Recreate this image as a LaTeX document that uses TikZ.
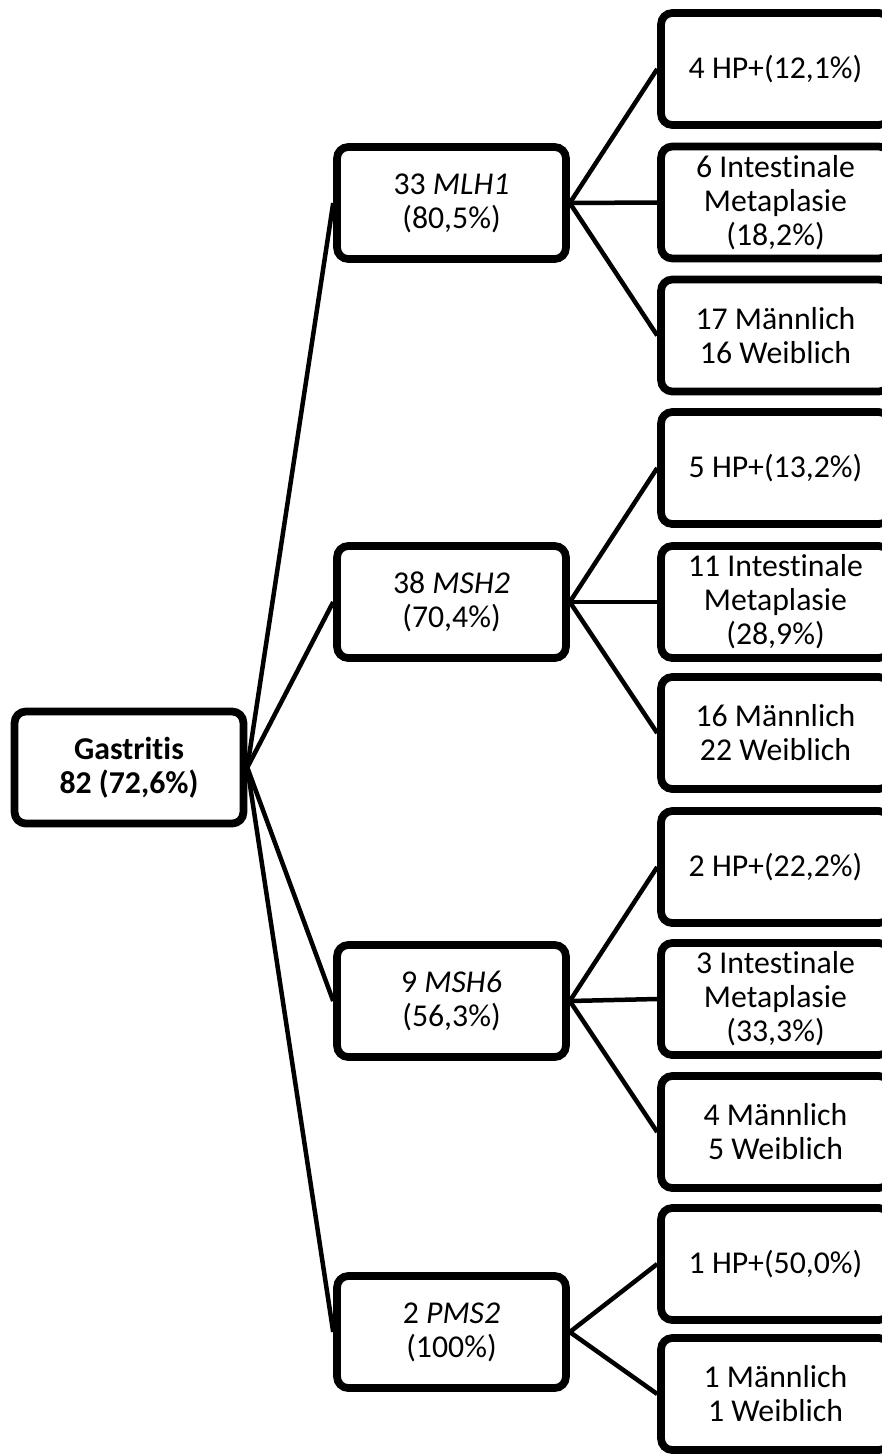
\documentclass[tikz,border=0pt]{standalone}
\usepackage{fontspec}
\setmainfont{Carlito}[Ligatures=NoCommon]
\usetikzlibrary{shadows}

\begin{document}
\begin{tikzpicture}[
    x=0.025cm, y=-0.025cm,
    box/.style={draw=black, fill=white, rounded corners=8pt,
                minimum width=5.72cm, minimum height=2.8cm, align=center,
                font=\fontsize{22.6}{24.2}\selectfont, line width=5.5pt,
                drop shadow={shadow xshift=0.4mm, shadow yshift=-0.6mm, opacity=0.25}},
    root/.style={box, font=\fontsize{22.6}{24.2}\selectfont\bfseries},
    leaf/.style={box},
    conn/.style={draw=black, line width=3.2pt},
]

% Rahmen des Bildes
\useasboundingbox (0,0) rectangle (882,1455);
\clip (0,0) rectangle (882,1455);

% Wurzel
\node[root] (gastritis) at (129,767.5) {Gastritis\\82 (72,6\%)};

% Gene
\node[box] (mlh1) at (451.5,203)  {33 \textit{MLH1}\\(80,5\%)};
\node[box] (msh2) at (451.5,602)  {38 \textit{MSH2}\\(70,4\%)};
\node[box] (msh6) at (451.5,1001) {9 \textit{MSH6}\\(56,3\%)};
\node[box] (pms2) at (451.5,1332) {2 \textit{PMS2}\\(100\%)};

% Befunde MLH1
\node[leaf] (mlh1hp)  at (775.5,69)    {4 HP+(12,1\%)};
\node[leaf] (mlh1im)  at (775.5,202.5) {6 Intestinale\\Metaplasie\\(18,2\%)};
\node[leaf] (mlh1sex) at (775.5,335.5) {17 Männlich\\16 Weiblich};

% Befunde MSH2
\node[leaf] (msh2hp)  at (775.5,468)   {5 HP+(13,2\%)};
\node[leaf] (msh2im)  at (775.5,602)   {11 Intestinale\\Metaplasie\\(28,9\%)};
\node[leaf] (msh2sex) at (775.5,733)   {16 Männlich\\22 Weiblich};

% Befunde MSH6
\node[leaf] (msh6hp)  at (775.5,867)   {2 HP+(22,2\%)};
\node[leaf] (msh6im)  at (775.5,999)   {3 Intestinale\\Metaplasie\\(33,3\%)};
\node[leaf] (msh6sex) at (775.5,1132)  {4 Männlich\\5 Weiblich};

% Befunde PMS2
\node[leaf] (pms2hp)  at (775.5,1264)  {1 HP+(50,0\%)};
\node[leaf] (pms2sex) at (775.5,1394)  {1 Männlich\\1 Weiblich};

% Verbindungen
\draw[conn] (gastritis.east) -- (mlh1.west);
\draw[conn] (gastritis.east) -- (msh2.west);
\draw[conn] (gastritis.east) -- (msh6.west);
\draw[conn] (gastritis.east) -- (pms2.west);

\draw[conn] (mlh1.east) -- (mlh1hp.west);
\draw[conn] (mlh1.east) -- (mlh1im.west);
\draw[conn] (mlh1.east) -- (mlh1sex.west);

\draw[conn] (msh2.east) -- (msh2hp.west);
\draw[conn] (msh2.east) -- (msh2im.west);
\draw[conn] (msh2.east) -- (msh2sex.west);

\draw[conn] (msh6.east) -- (msh6hp.west);
\draw[conn] (msh6.east) -- (msh6im.west);
\draw[conn] (msh6.east) -- (msh6sex.west);

\draw[conn] (pms2.east) -- (pms2hp.west);
\draw[conn] (pms2.east) -- (pms2sex.west);

\end{tikzpicture}
\end{document}
